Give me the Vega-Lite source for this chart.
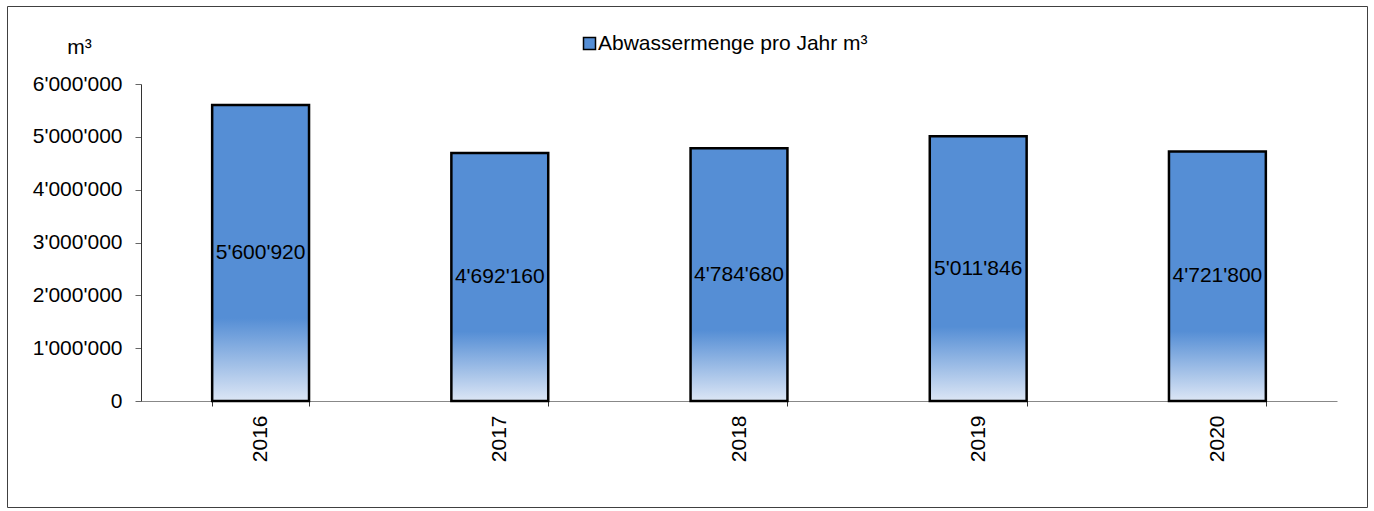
{
  "$schema": "https://vega.github.io/schema/vega-lite/v6.json",
  "width": 1360,
  "height": 501,
  "autosize": {"type": "none"},
  "padding": {"left": 7, "top": 6, "right": 7, "bottom": 4},
  "background": "white",
  "config": {
    "view": {"stroke": "#404040", "strokeWidth": 1},
    "font": "Liberation Sans",
    "locale": {"number": {"decimal": ".", "thousands": "'", "grouping": [3], "currency": ["", ""]}}
  },
  "data": {
    "values": [
      {"year": "2016", "value": 5600920, "series": "Abwassermenge pro Jahr m³"},
      {"year": "2017", "value": 4692160, "series": "Abwassermenge pro Jahr m³"},
      {"year": "2018", "value": 4784680, "series": "Abwassermenge pro Jahr m³"},
      {"year": "2019", "value": 5011846, "series": "Abwassermenge pro Jahr m³"},
      {"year": "2020", "value": 4721800, "series": "Abwassermenge pro Jahr m³"}
    ]
  },
  "encoding": {
    "x": {
      "field": "year",
      "type": "ordinal",
      "scale": {"range": [134, 1330], "paddingInner": 0.595, "paddingOuter": 0.2975},
      "axis": {
        "title": null,
        "labelAngle": -90,
        "labelFontSize": 21,
        "labelColor": "black",
        "tickBand": "extent",
        "tickSize": 5,
        "labelPadding": 9,
        "offset": -106,
        "domainColor": "#888888",
        "tickColor": "#333333"
      }
    }
  },
  "layer": [
    {
      "mark": {
        "type": "bar",
        "fill": {
          "gradient": "linear",
          "x1": 0, "y1": 0, "x2": 0, "y2": 1,
          "stops": [
            {"offset": 0, "color": "#558ED5"},
            {"offset": 0.72, "color": "#558ED5"},
            {"offset": 1, "color": "#DCE6F5"}
          ]
        },
        "stroke": "black",
        "strokeWidth": 2.5
      },
      "encoding": {
        "y": {
          "field": "value",
          "type": "quantitative",
          "scale": {"domain": [0, 6000000], "range": [395, 78], "nice": false, "zero": true},
          "axis": {
            "values": [0, 1000000, 2000000, 3000000, 4000000, 5000000, 6000000],
            "labelExpr": "format(datum.value, ',')",
            "grid": false,
            "title": "m³",
            "titleAngle": 0,
            "titleFontSize": 21,
            "titleFontWeight": "normal",
            "titleColor": "black",
            "titleX": -62,
            "titleY": 41,
            "titleAlign": "center",
            "titleBaseline": "middle",
            "offset": -134,
            "domainColor": "#333333",
            "tickColor": "#666666",
            "tickSize": 6,
            "labelFontSize": 21,
            "labelColor": "black",
            "labelPadding": 13
          }
        }
      }
    },
    {
      "mark": {"type": "square", "size": 0},
      "encoding": {
        "y": {"field": "value", "type": "quantitative", "axis": null},
        "color": {
          "field": "series",
          "type": "nominal",
          "scale": {"range": ["#558ED5"]},
          "legend": {
            "title": null,
            "orient": "none",
            "legendX": 572,
            "legendY": 27,
            "symbolType": "square",
            "symbolSize": 144,
            "symbolStrokeColor": "black",
            "symbolStrokeWidth": 1.5,
            "symbolOpacity": 1,
            "labelFontSize": 21,
            "labelColor": "black",
            "labelOffset": -2,
            "labelLimit": 0,
            "padding": 0
          }
        }
      }
    },
    {
      "mark": {"type": "text", "fontSize": 21, "color": "black", "align": "center", "baseline": "middle"},
      "encoding": {
        "y": {
          "field": "value",
          "type": "quantitative",
          "scale": {"domain": [0, 12000000], "range": [395, 78], "nice": false},
          "axis": null
        },
        "text": {"field": "value", "type": "quantitative", "format": ","}
      }
    }
  ],
  "resolve": {"scale": {"y": "independent"}}
}
